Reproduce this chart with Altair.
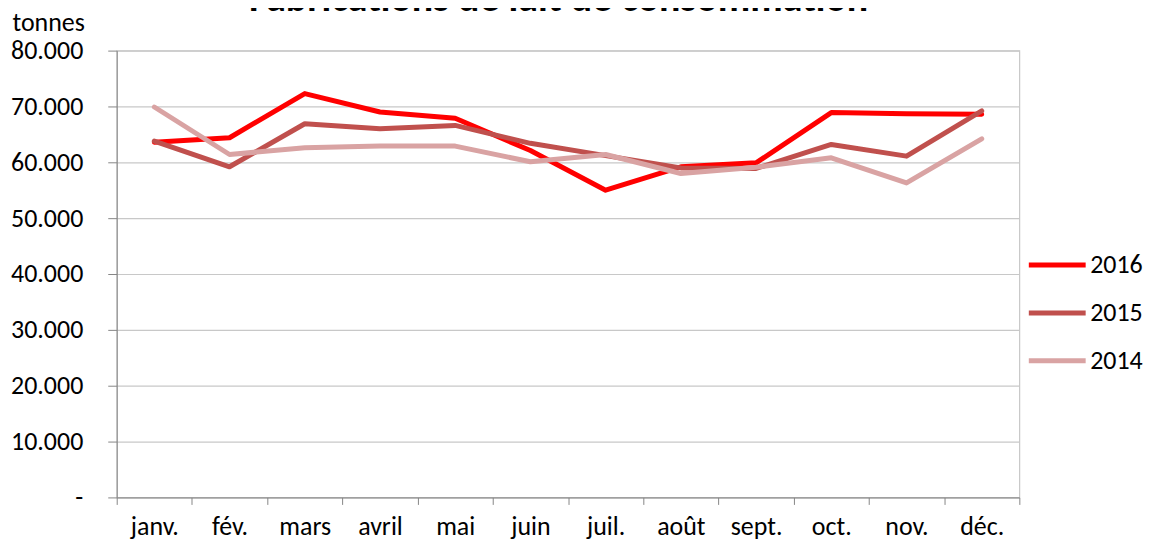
import altair as alt
import pandas as pd

months = ["janv.", "fév.", "mars", "avril", "mai", "juin", "juil.", "août", "sept.", "oct.", "nov.", "déc."]
years = ["2016", "2015", "2014"]
v2016 = [63600, 64400, 72300, 69000, 67900, 62100, 55000, 59200, 59900, 68900, 68700, 68600]
v2015 = [63800, 59200, 66900, 66000, 66600, 63400, 61200, 59000, 58900, 63200, 61100, 69200]
v2014 = [69900, 61400, 62600, 62900, 62900, 60100, 61400, 58000, 59100, 60800, 56300, 64200]
colors = ["#FF0000", "#C0504D", "#D9A3A3"]
title_text = "Fabrications de lait de consommation"

rows = []
for yr, vals in zip(years, [v2016, v2015, v2014]):
    for m, v in zip(months, vals):
        rows.append({"mois": m, "annee": yr, "valeur": v})
df = pd.DataFrame(rows)

FONT = "Carlito, Open Sans"
FS = 26

lines = alt.Chart(df).mark_line(strokeWidth=5, strokeCap="round", strokeJoin="round").encode(
    x=alt.X("mois:N", sort=months, bandPosition=0.5,
            scale=alt.Scale(type="band", paddingInner=0, paddingOuter=0),
            axis=alt.Axis(title=None, tickBand="extent", tickSize=7, labelPadding=9,
                          labelFontSize=FS, labelFont=FONT, labelColor="black",
                          domainColor="#868686", tickColor="#868686", grid=False,
                          labelAngle=0)),
    y=alt.Y("valeur:Q", scale=alt.Scale(domain=[0, 80000], nice=False),
            axis=alt.Axis(values=list(range(0, 80001, 10000)), tickSize=9, labelPadding=25,
                          labelFontSize=FS, labelFont=FONT, labelColor="black",
                          labelExpr="datum.value == 0 ? '-' : replace(format(datum.value, ',d'), ',', '.')",
                          domainColor="#868686", tickColor="#868686",
                          gridColor="#c8c8c8", gridWidth=1.2,
                          title="tonnes", titleAngle=0, titleAlign="left", titleBaseline="middle",
                          titleX=-105, titleY=-28, titleFont=FONT, titleFontSize=FS,
                          titleFontWeight="normal", titleColor="black")),
    color=alt.Color("annee:N", sort=years,
                    scale=alt.Scale(domain=years, range=colors),
                    legend=alt.Legend(title=None, orient="none", legendX=912, legendY=200,
                                      symbolType="stroke", symbolSize=3249, symbolStrokeWidth=5,
                                      clipHeight=30, rowPadding=18, labelOffset=2,
                                      labelFontSize=FS, labelFont=FONT, labelColor="black")),
)

title_df = pd.DataFrame({"t": [title_text]})
title = alt.Chart(title_df).mark_text(fontSize=40, fontWeight="bold", font=FONT,
                                      baseline="alphabetic", align="center", color="black").encode(
    text="t:N", x=alt.value(443), y=alt.value(-40))

chart = alt.layer(lines, title).properties(
    width=905, height=448,
    autosize=alt.AutoSizeParams(type="none"),
    padding={"left": 109, "top": 42, "right": 128, "bottom": 50},
).configure_view(stroke="#c8c8c8", strokeWidth=1.2)

chart.save("out.html", embed_options={"renderer": "svg", "actions": False})
